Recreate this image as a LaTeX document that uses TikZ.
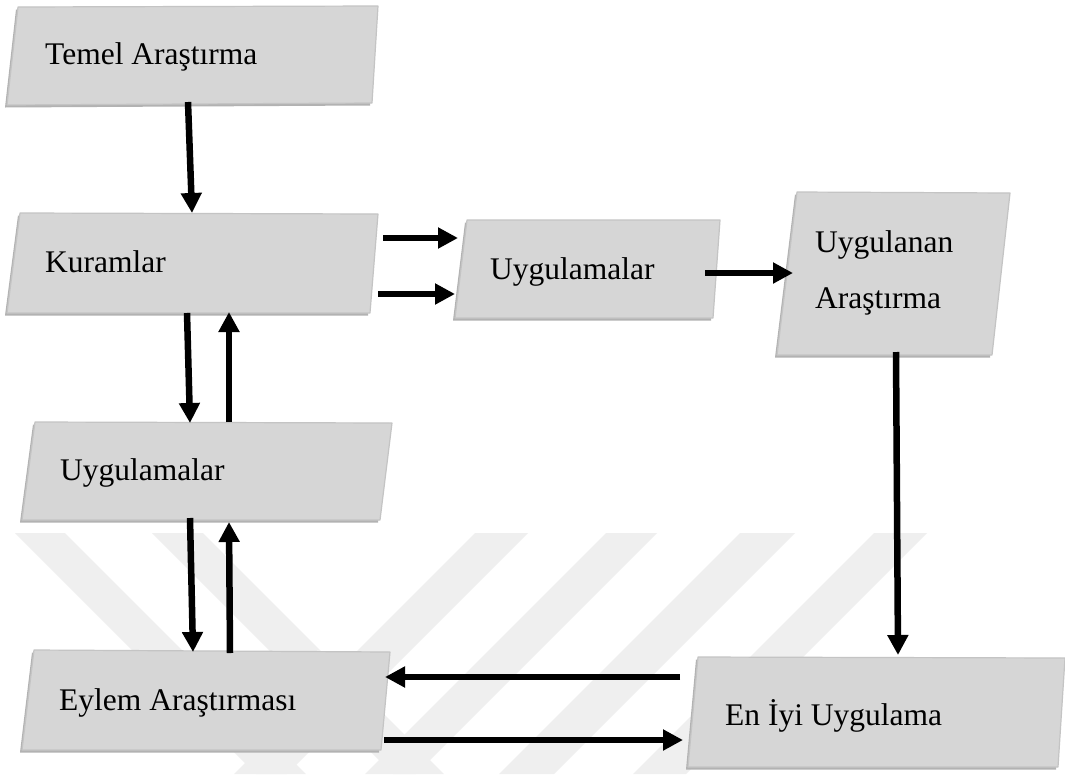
\documentclass[tikz,border=0pt]{standalone}
\usepackage{fontspec}
\setmainfont{Liberation Serif}
\usetikzlibrary{arrows.meta}
\definecolor{boxfill}{HTML}{D6D6D6}
\definecolor{boxedge}{HTML}{C4C4C4}
\definecolor{boxshadow}{HTML}{B2B2B2}
\definecolor{wmark}{HTML}{EFEFEF}
\newcommand{\skewbox}[4]{%
  \begin{scope}[shift={(-2,2.5)}]\fill[boxshadow] (#1) -- (#2) -- (#3) -- (#4) -- cycle;\end{scope}
  \path[boxshape] (#1) -- (#2) -- (#3) -- (#4) -- cycle;}
\begin{document}
\begin{tikzpicture}[x=1pt,y=-1pt,
  boxshape/.style={fill=boxfill, draw=boxedge, line width=1.2pt, line join=round},
  lbl/.style={anchor=base west, inner sep=0pt, font=\fontsize{31.5}{38}\selectfont},
  conn/.style={line width=6.5pt, -{Triangle[width=20pt,length=20pt]}},
  stripe/.style={fill=wmark}]
\useasboundingbox (0,0) rectangle (1065,774);
\fill[white] (0,0) rectangle (1065,774);
% watermark
\begin{scope}
  \clip (0,533) rectangle (1065,774);
  \fill[stripe] (15,533) -- (65,533) -- (306,774) -- (256,774) -- cycle;
  \fill[stripe] (152,533) -- (203,533) -- (444,774) -- (393,774) -- cycle;
  \fill[stripe] (475,533) -- (528,533) -- (287,774) -- (234,774) -- cycle;
  \fill[stripe] (606,533) -- (657,533) -- (416,774) -- (365,774) -- cycle;
  \fill[stripe] (740,533) -- (795,533) -- (554,774) -- (499,774) -- cycle;
  \fill[stripe] (874,533) -- (927,533) -- (686,774) -- (633,774) -- cycle;
\end{scope}
% boxes
\skewbox{18,7}{378,6}{372,103}{7,105}
\skewbox{20,213}{378,214}{370,313}{7,313}
\skewbox{467,220}{720,220}{713,318}{455,318}
\skewbox{797,192}{1010,193}{992,355}{777,355}
\skewbox{35,422}{392,423}{380,520}{22,520}
\skewbox{34,650}{390,652}{381,750}{22,750}
\skewbox{698,657}{1065,658}{1058,767}{688,767}
% labels
\node[lbl] (temel) at (45,64) {Temel Araştırma};
\node[lbl] (kuram) at (45,272) {Kuramlar};
\node[lbl] (uygm) at (490,279) {Uygulamalar};
\node[lbl] (uygan1) at (815,252) {Uygulanan};
\node[lbl] (uygan2) at (815,308) {Araştırma};
\node[lbl] (uygl) at (60,480) {Uygulamalar};
\node[lbl] (eylem) at (59,710) {Eylem Araştırması};
\node[lbl] (eniyi) at (725,725) {En İyi Uygulama};
% connector end points
\coordinate (a1s) at (188,102); \coordinate (a1e) at (192,213);
\coordinate (a2s) at (383,238); \coordinate (a2e) at (458,238);
\coordinate (a3s) at (378,294); \coordinate (a3e) at (455,294);
\coordinate (a4s) at (705,273); \coordinate (a4e) at (793,273);
\coordinate (a5s) at (896,352); \coordinate (a5e) at (898,655);
\coordinate (a6s) at (187,313); \coordinate (a6e) at (190,423);
\coordinate (a7s) at (229,422); \coordinate (a7e) at (229,312);
\coordinate (a8s) at (190,518); \coordinate (a8e) at (193,652);
\coordinate (a9s) at (230,653); \coordinate (a9e) at (229,522);
\coordinate (a10s) at (680,677); \coordinate (a10e) at (385,677);
\coordinate (a11s) at (384,740); \coordinate (a11e) at (683,740);
% connectors
\draw[conn] (a1s) -- (a1e);
\draw[conn] (a2s) -- (a2e);
\draw[conn] (a3s) -- (a3e);
\draw[conn] (a4s) -- (a4e);
\draw[conn] (a5s) -- (a5e);
\draw[conn] (a6s) -- (a6e);
\draw[conn] (a7s) -- (a7e);
\draw[conn] (a8s) -- (a8e);
\draw[conn] (a9s) -- (a9e);
\draw[conn] (a10s) -- (a10e);
\draw[conn] (a11s) -- (a11e);
\end{tikzpicture}
\end{document}
